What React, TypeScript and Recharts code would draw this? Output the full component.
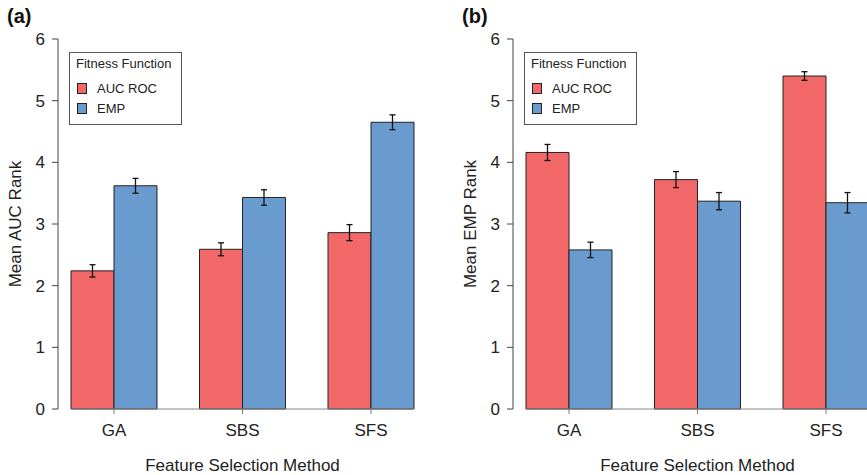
import { BarChart, Bar, XAxis, YAxis, ErrorBar, ReferenceLine } from 'recharts'

const methods = ['GA', 'SBS', 'SFS']
const seriesNames = ['AUC ROC', 'EMP']
const seriesColors = ['#F26868', '#6A9BCE']
const yTicks = [0, 1, 2, 3, 4, 5, 6]

// (a) mean AUC rank, per fitness function
const aucPanelAuc = [2.24, 2.59, 2.86]
const aucPanelAucErr = [0.1, 0.105, 0.13]
const aucPanelEmp = [3.62, 3.43, 4.65]
const aucPanelEmpErr = [0.12, 0.125, 0.12]

// (b) mean EMP rank, per fitness function
const empPanelAuc = [4.16, 3.72, 5.4]
const empPanelAucErr = [0.13, 0.13, 0.07]
const empPanelEmp = [2.58, 3.37, 3.345]
const empPanelEmpErr = [0.125, 0.14, 0.165]

const FONT = '"Liberation Sans", Arial, Helvetica, sans-serif'
const TEXT = '#222'
const AXIS_FONT = 17

function buildRows(auc: number[], aucErr: number[], emp: number[], empErr: number[]) {
  return methods.map((m, i) => ({
    method: m,
    auc: auc[i],
    aucErr: aucErr[i],
    emp: emp[i],
    empErr: empErr[i],
  }))
}

const yLabel = (text: string) => (props: any) => {
  const vb = props.viewBox
  const cx = vb.x + 15
  const cy = vb.y + vb.height / 2
  return (
    <text
      x={cx}
      y={cy}
      transform={`rotate(-90, ${cx}, ${cy})`}
      textAnchor="middle"
      dominantBaseline="central"
      fontSize={AXIS_FONT}
      fill={TEXT}
    >
      {text}
    </text>
  )
}

// baseline runs from first bar to last bar only
const baseline = (props: any) => (
  <line x1={props.x1 + 13} y1={props.y1} x2={props.x2 - 13} y2={props.y2} stroke="#888" strokeWidth={1.2} />
)

function Legend({ left }: { left: number }) {
  return (
    <div
      style={{
        position: 'absolute',
        left,
        top: 52,
        width: 111,
        height: 71,
        border: '1px solid #555',
        background: '#fff',
        fontSize: 13,
        color: TEXT,
      }}
    >
      <div style={{ position: 'absolute', left: 6, top: 3, lineHeight: '15px', whiteSpace: 'nowrap' }}>
        Fitness Function
      </div>
      {seriesNames.map((name, i) => (
        <div key={name}>
          <div
            style={{
              position: 'absolute',
              left: 7,
              top: 30 + i * 20,
              width: 8,
              height: 9,
              background: seriesColors[i],
              border: '1px solid #222',
            }}
          />
          <div style={{ position: 'absolute', left: 27, top: 28 + i * 20, lineHeight: '15px', whiteSpace: 'nowrap' }}>
            {name}
          </div>
        </div>
      ))}
    </div>
  )
}

interface PanelProps {
  left: number
  tag: string
  title: string
  rows: ReturnType<typeof buildRows>
}

function Panel({ left, tag, title, rows }: PanelProps) {
  return (
    <div style={{ position: 'absolute', left, top: 0, width: 455, height: 475 }}>
      <BarChart
        width={455}
        height={475}
        data={rows}
        margin={{ top: 39, right: 28, bottom: 0, left: 0 }}
        barCategoryGap={21.25}
        barGap={0}
      >
        <XAxis
          dataKey="method"
          axisLine={false}
          tickLine={{ stroke: '#777' }}
          tickSize={5}
          tickMargin={10}
          tick={{ fill: TEXT, fontSize: AXIS_FONT }}
          interval={0}
          padding={{ left: -8.25, right: -8.25 }}
          height={66}
          label={{ value: 'Feature Selection Method', position: 'insideBottom', offset: 4, fill: TEXT, fontSize: AXIS_FONT }}
        />
        <YAxis
          domain={[0, 6]}
          ticks={yTicks}
          interval={0}
          width={58}
          axisLine={{ stroke: '#444' }}
          tickLine={{ stroke: '#444' }}
          tickSize={6}
          tickMargin={7}
          tick={{ fill: TEXT, fontSize: AXIS_FONT }}
          label={{ content: yLabel(title) }}
        />
        <Bar dataKey="auc" name={seriesNames[0]} fill={seriesColors[0]} stroke="#222" strokeWidth={1} isAnimationActive={false}>
          <ErrorBar dataKey="aucErr" width={3} stroke="#111" strokeWidth={1.3} />
        </Bar>
        <Bar dataKey="emp" name={seriesNames[1]} fill={seriesColors[1]} stroke="#222" strokeWidth={1} isAnimationActive={false}>
          <ErrorBar dataKey="empErr" width={3} stroke="#111" strokeWidth={1.3} />
        </Bar>
        <ReferenceLine y={0} shape={baseline} />
      </BarChart>
      <div
        style={{
          position: 'absolute',
          left: 7,
          top: 6,
          fontSize: 20,
          lineHeight: '20px',
          fontWeight: 'bold',
          color: '#111',
        }}
      >
        {tag}
      </div>
      <Legend left={69} />
    </div>
  )
}

export default function App() {
  const aucRows = buildRows(aucPanelAuc, aucPanelAucErr, aucPanelEmp, aucPanelEmpErr)
  const empRows = buildRows(empPanelAuc, empPanelAucErr, empPanelEmp, empPanelEmpErr)
  return (
    <div
      style={{
        position: 'fixed',
        left: 0,
        top: 0,
        width: 867,
        height: 475,
        overflow: 'hidden',
        background: '#fff',
        fontFamily: FONT,
      }}
    >
      <Panel left={0} tag="(a)" title="Mean AUC Rank" rows={aucRows} />
      <Panel left={455} tag="(b)" title="Mean EMP Rank" rows={empRows} />
    </div>
  )
}
